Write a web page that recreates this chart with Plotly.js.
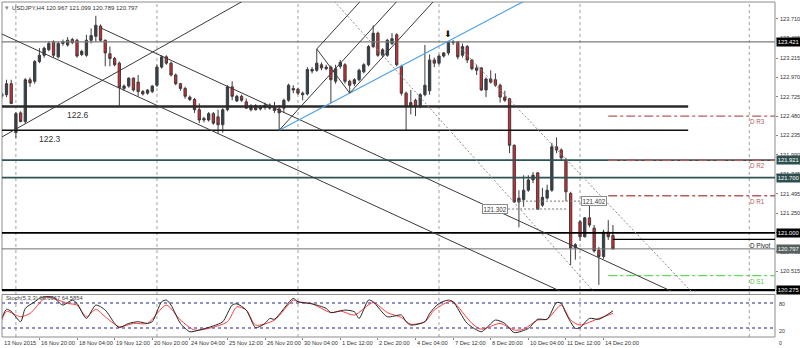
<!DOCTYPE html>
<html><head><meta charset="utf-8">
<script src="https://cdn.plot.ly/plotly-3.0.1.min.js"></script>
<style>html,body{margin:0;padding:0;background:#fff;}#chart{width:800px;height:348px;}</style>
</head><body><div id="chart"></div>
<script>
// ---------- data ----------
const symbolTitle = 'USDJPY,H4 120.967 121.099 120.789 120.797';
const stochTitle = 'Stoch(5,3,3) 66.6667 64.5854';

const openP = [122.73,122.75,122.89,122.27,122.52,122.41,122.94,122.92,123.17,123.25,
123.32,123.42,123.23,123.40,123.38,123.45,123.44,123.26,123.25,123.44,
123.49,123.62,123.44,123.27,123.21,123.15,122.83,122.86,122.96,122.91,
122.79,122.77,122.79,122.87,123.10,123.23,123.15,123.00,122.89,122.83,
122.72,122.69,122.56,122.45,122.43,122.51,122.47,122.37,122.56,122.85,
122.67,122.73,122.66,122.56,122.61,122.57,122.59,122.62,122.60,122.57,
122.58,122.68,122.83,122.82,122.77,122.76,123.07,123.06,123.13,123.08,
123.10,122.92,123.11,123.13,122.92,122.89,122.94,123.04,123.13,123.36,
123.53,123.25,123.25,123.40,123.51,123.11,122.77,122.60,122.68,122.61,
122.75,122.80,123.19,123.15,123.24,123.28,123.41,123.42,123.25,123.36,
123.19,123.09,123.09,122.81,122.95,122.94,122.87,122.72,122.70,122.11,
121.39,121.42,121.54,121.67,121.76,121.35,121.44,121.54,122.09,122.05,
121.92,121.50,120.81,121.14,120.95,121.19,121.06,120.78,120.70,121.01,
120.967];
const highP = [122.78,122.94,122.94,122.53,122.54,122.96,122.97,123.19,123.34,123.36,
123.43,123.44,123.42,123.45,123.48,123.47,123.46,123.32,123.51,123.59,
123.75,123.64,123.45,123.36,123.23,123.17,122.88,122.97,122.97,123.00,
122.81,122.82,122.87,123.13,123.25,123.25,123.17,123.02,122.90,122.85,
122.74,122.71,122.64,122.47,122.53,122.53,122.56,122.58,122.87,122.92,
122.75,122.75,122.70,122.63,122.63,122.62,122.65,122.64,122.66,122.62,
122.70,122.89,122.87,122.84,122.79,123.10,123.10,123.33,123.16,123.13,
123.12,123.13,123.19,123.15,122.94,122.96,123.08,123.15,123.38,123.63,
123.55,123.34,123.46,123.53,123.53,123.13,122.79,122.81,122.70,122.77,
123.38,123.26,123.22,123.26,123.29,123.43,123.44,123.43,123.40,123.38,
123.20,123.13,123.10,122.97,123.06,123.02,122.89,122.80,122.71,122.12,
121.54,121.73,121.73,121.77,121.77,121.57,121.61,122.14,122.21,122.07,
121.95,121.52,120.87,121.16,121.20,121.35,121.10,120.82,121.04,121.16,
121.099];
const lowP = [122.70,122.72,122.63,122.20,122.40,122.38,122.85,122.89,123.15,123.22,
123.30,123.22,123.21,123.37,123.36,123.39,123.22,123.24,123.23,123.40,
123.42,123.42,123.11,123.11,123.11,122.61,122.80,122.84,122.79,122.73,
122.74,122.75,122.77,122.85,123.08,123.13,122.98,122.87,122.80,122.70,
122.67,122.52,122.39,122.40,122.41,122.37,122.26,122.27,122.54,122.68,
122.66,122.66,122.57,122.54,122.55,122.55,122.56,122.56,122.52,122.30,
122.52,122.66,122.77,122.75,122.68,122.74,123.02,123.04,123.06,123.06,
122.64,122.89,123.08,122.89,122.77,122.86,122.92,123.02,123.11,123.34,
123.23,123.22,123.23,123.38,123.11,122.74,122.30,122.50,122.48,122.58,
122.73,122.75,123.10,123.13,123.22,123.25,123.38,123.20,123.22,123.15,
123.06,123.00,122.80,122.72,122.89,122.85,122.65,122.66,122.01,121.38,
121.07,121.33,121.52,121.63,121.29,121.33,121.42,121.52,122.01,121.92,
121.40,120.59,120.66,120.90,120.94,121.07,120.75,120.34,120.67,120.91,
120.789];
const closeP = [122.76,122.89,122.64,122.51,122.41,122.94,122.90,123.17,123.25,123.34,
123.40,123.25,123.40,123.42,123.44,123.41,123.24,123.30,123.44,123.50,
123.63,123.44,123.28,123.21,123.13,122.84,122.86,122.96,122.81,122.79,
122.76,122.81,122.86,123.10,123.23,123.15,123.00,122.89,122.83,122.73,
122.69,122.56,122.43,122.43,122.51,122.39,122.37,122.56,122.85,122.73,
122.73,122.68,122.58,122.61,122.56,122.59,122.62,122.58,122.55,122.52,
122.68,122.87,122.81,122.77,122.75,123.07,123.05,123.15,123.09,123.10,
122.94,123.08,123.16,122.92,122.87,122.94,123.06,123.13,123.36,123.53,
123.25,123.32,123.44,123.46,123.13,122.77,122.60,122.65,122.60,122.75,
122.87,123.19,123.15,123.24,123.28,123.42,123.42,123.23,123.36,123.19,
123.08,123.06,122.81,122.95,122.91,122.87,122.72,122.68,122.11,121.39,
121.44,121.54,121.67,121.73,121.30,121.45,121.54,122.09,122.05,121.95,
121.52,120.81,120.85,120.95,121.19,121.10,120.77,120.70,121.01,120.95,
120.797];

// stochastic (bar index, value) read at turning points
const stochMainBars = [0,1,2,4,5,7,8,9,11,12,13,15,16,18,20,22,24,25,27,29,31,32,34,35,36,38,40,42,45,47,49,50,52,54,56,57,58,62,63,66,69,70,73,75,76,78,79,82,85,86,87,90,91,93,95,96,99,102,103,105,107,109,112,114,116,118,119,120,122,123,125,127,130];
const stochMain = [43,65,60,35,67,83,91,95,94,83,75,87,79,43,75,63,31,21,31,35,31,35,83,87,75,31,11,15,25,35,75,78,63,21,31,43,41,91,83,78,67,57,63,59,43,87,83,47,51,35,27,35,55,79,87,83,31,11,19,39,31,9,19,41,41,81,79,55,19,21,43,41,61];
const stochSignalBars = [0,1,4,6,9,10,12,14,16,18,20,22,25,28,31,35,38,41,44,48,50,52,54,58,62,63,66,70,72,75,79,82,85,87,90,92,95,96,100,102,106,109,111,114,116,119,121,123,127,130];
const stochSignal = [39,60,47,55,91,94,87,79,75,47,65,47,23,31,31,75,39,15,19,35,71,63,27,39,87,83,78,57,61,51,81,57,45,29,35,63,83,83,31,17,31,15,17,39,41,75,39,27,43,55];
const stochLevels = [80, 20];
const stochAxisLabels = ['100','80','20','0'];
const stochAxisValues = [100,80,20,0];

// time axis
const timeLabels = ['13 Nov 2015','16 Nov 20:00','18 Nov 04:00','19 Nov 12:00','20 Nov 20:00','24 Nov 04:00','25 Nov 12:00','26 Nov 20:00','30 Nov 04:00','1 Dec 12:00','2 Dec 20:00','4 Dec 04:00','7 Dec 12:00','8 Dec 20:00','10 Dec 04:00','11 Dec 12:00','14 Dec 20:00'];
const timeLabelBars = [0,8,16,24,32,40,48,56,64,72,80,88,96,104,112,120,128];
const weekGridBars = [3,33,63,93,123,159];

// price axis: tick marks, and the labels that stay readable beside the boxes
const priceTicks = [123.710,123.465,123.215,122.970,122.725,122.480,122.235,121.990,121.745,121.495,121.250,121.005,120.760,120.515,120.270];
const priceTickLabels = [123.710,123.465,123.215,122.970,122.725,122.480,122.235,121.990,121.745,121.495,121.250,120.760,120.515];

// horizontal level lines with price boxes
const levelPrices = [123.421,121.921,121.700,121.000,120.797,120.275];
// support / resistance with text
const srPrices = [122.6, 122.3];
const srLabels = ['122.6','122.3'];
// daily pivots
const pivotNames = ['D R3','D R2','D R1','D Pivot','D S1'];
const pivotValues = [122.48,121.92,121.47,120.918,120.457];
// price label objects
const priceLabelValues = [121.402, 121.302];
const priceLabelTexts = ['121.402','121.302'];

// trend lines (bar index, price)
const lineA_bars = [0,119.2],   lineA_prices = [123.52,120.25];
const lineB_bars = [21.1,142.8], lineB_prices = [123.595,120.25];
const lineC_bars = [0,51.7],    lineC_prices = [122.214,123.95];
const lineE_bars = [70.5,126],  lineE_prices = [123.95,120.25];
const lineF_end = [146.8,120.25];
const pitchforkBars = [59,67,74];

// ---------- build ----------
const bars = openP.map((_, i) => i);
const FONT = 'Liberation Sans, Arial, sans-serif';
const shapes = [], ann = [];

function seg(b, p, e0, e1) {
  const s = (p[1]-p[0])/(b[1]-b[0]);
  return {x0:b[0]-e0, y0:p[0]-s*e0, x1:b[1]+e1, y1:p[1]+s*e1};
}
function addLine(geom, color, width, dash) {
  shapes.push(Object.assign({type:'line', xref:'x', yref:'y', line:{color:color, width:width, dash:dash||'solid'}, layer:'above'}, geom));
}

// frames
shapes.push({type:'rect', xref:'x domain', yref:'y domain', x0:0, x1:1, y0:0, y1:1, line:{color:'#8c8c8c', width:1}, layer:'above'});
shapes.push({type:'rect', xref:'x domain', yref:'y2 domain', x0:0, x1:1, y0:0, y1:1, line:{color:'#8c8c8c', width:1}, layer:'above'});

// weekly vertical grid
weekGridBars.forEach(b => shapes.push({type:'line', xref:'x', yref:'paper', x0:b, x1:b, y0:0, y1:1, line:{color:'#a0a0a0', width:1, dash:'dot'}, layer:'below'}));

// stochastic levels
stochLevels.forEach(v => shapes.push({type:'line', xref:'x domain', yref:'y2', x0:0, x1:1, y0:v, y1:v, line:{color:'#6c6cb8', width:1.5, dash:'dot'}, layer:'below'}));

// full-width levels
const levelStyle = [
  {c:'#7c7c7c', w:1.2, bg:'#000000'},
  {c:'#2f5252', w:1.6, bg:'#2f4f4f'},
  {c:'#2f5252', w:1.6, bg:'#2f4f4f'},
  {c:'#000000', w:1.6, bg:'#000000'},
  {c:'#707070', w:1.0, bg:'#56605f'},
  {c:'#000000', w:2.0, bg:'#000000'}
];
levelPrices.forEach((p, i) => {
  shapes.push({type:'line', xref:'x domain', yref:'y', x0:0, x1:1, y0:p, y1:p, line:{color:levelStyle[i].c, width:levelStyle[i].w}, layer:'above'});
});

// support/resistance segments
const srStyle = [{w:2.4, c:'#2a2a2a', lx:16.2}, {w:1.6, c:'#111111', lx:10.3}];
srPrices.forEach((p, i) => {
  shapes.push({type:'line', xref:'x', yref:'y', x0:-2, x1:146, y0:p, y1:p, line:{color:srStyle[i].c, width:srStyle[i].w}, layer:'above'});
  ann.push({x:srStyle[i].lx, y:p, xref:'x', yref:'y', text:srLabels[i], showarrow:false, xanchor:'center', yanchor:'top', yshift:-1.5,
    font:{family:FONT, size:8.5, color:'#333'}});
});

// pivots
const pivotStyle = [
  {c:'#b45c5c', d:'dashdot', from:129, tc:'#b45c5c'},
  {c:'#b45c5c', d:'dashdot', from:129, tc:'#b45c5c'},
  {c:'#b45c5c', d:'dashdot', from:129, tc:'#b45c5c'},
  {c:'#000000', d:'solid', from:130, tc:'#222'},
  {c:'#5fdc5f', d:'dashdot', from:129, tc:'#4ccf4c'}
];
pivotValues.forEach((p, i) => {
  const st = pivotStyle[i];
  shapes.push({type:'line', xref:'x', yref:'y', x0:st.from, x1:170, y0:p, y1:p, line:{color:st.c, width:1.3, dash:st.d}, layer:'above'});
  ann.push({x:158.7, y:p, xref:'x', yref:'y', text:pivotNames[i], showarrow:false, xanchor:'left', yanchor:'top', yshift:(i===3?-1:0),
    font:{family:FONT, size:6.3, color:st.tc}});
});

// price label objects
const plStyle = [{from:109.8, to:123.4, bx:126.0}, {from:107.7, to:120.3, bx:105.0}];
priceLabelValues.forEach((p, i) => {
  shapes.push({type:'line', xref:'x', yref:'y', x0:plStyle[i].from, x1:plStyle[i].to, y0:p, y1:p, line:{color:'#777', width:1, dash:'2px,2px'}, layer:'above'});
  ann.push({x:plStyle[i].bx, y:p, xref:'x', yref:'y', text:priceLabelTexts[i], showarrow:false, xanchor:'center', yanchor:'middle',
    bgcolor:'#ffffff', bordercolor:'#8a8a8a', borderwidth:1, borderpad:0.5, font:{family:FONT, size:6.3, color:'#333'}});
});

// trend lines
addLine(seg(lineA_bars, lineA_prices, 3, 25), '#3a3a3a', 1);
addLine(seg(lineB_bars, lineB_prices, 0, 12), '#3a3a3a', 1);
addLine(seg(lineC_bars, lineC_prices, 3, 6), '#3a3a3a', 1);
addLine(seg(lineE_bars, lineE_prices, 6, 6), '#8a8a8a', 1, '2px,2px');
addLine(seg([96, lineF_end[0]], [highP[96], lineF_end[1]], 0, 6), '#8a8a8a', 1, '2px,2px');
// blue line from pitchfork handle through the top
addLine(seg([pitchforkBars[0], 95], [lowP[pitchforkBars[0]], highP[95]], 0, 45), '#4d9fea', 1.2);

// Andrews pitchfork
(function(){
  const b1 = pitchforkBars[0], p1 = lowP[b1];
  const b2 = pitchforkBars[1], p2 = highP[b2];
  const b3 = pitchforkBars[2], p3 = lowP[b3];
  const mb = (b2+b3)/2, mp = (p2+p3)/2;
  const s = (mp-p1)/(mb-b1);
  const ext = 45;
  addLine({x0:b1, y0:p1, x1:b1+ext, y1:p1+s*ext}, '#3a3a3a', 1);
  addLine({x0:b2, y0:p2, x1:b2+ext, y1:p2+s*ext}, '#3a3a3a', 1);
  addLine({x0:b3, y0:p3, x1:b3+ext, y1:p3+s*ext}, '#3a3a3a', 1);
  addLine({x0:b2, y0:p2, x1:b3, y1:p3}, '#3a3a3a', 1);
})();

// arrow above the top candle
ann.push({x:95, y:highP[95], xref:'x', yref:'y', text:'\u2B07', showarrow:false, yanchor:'bottom', yshift:0,
  font:{family:'DejaVu Sans', size:9, color:'#111'}});

// price axis tick labels (drawn as text next to the axis ticks)
priceTickLabels.forEach(v => {
  ann.push({x:1, y:v, xref:'paper', yref:'y', text:v.toFixed(3), showarrow:false, xanchor:'left', yanchor:'middle', xshift:2.5,
    font:{family:FONT, size:5.6, color:'#333'}});
});

// price boxes on the axis
levelPrices.forEach((p, i) => {
  ann.push({x:1, y:p, xref:'paper', yref:'y', text:p.toFixed(3), showarrow:false, xanchor:'left', yanchor:'middle', xshift:0.5,
    bgcolor:levelStyle[i].bg, borderpad:0.8, font:{family:FONT, size:5.8, color:'#ffffff'}});
});

// time labels
timeLabels.forEach((t, i) => {
  ann.push({x:Math.max(timeLabelBars[i], 0.06), y:0, xref:'x', yref:'paper', text:t, showarrow:false, xanchor:'left', yanchor:'top', yshift:-0.5, xshift:-0.5,
    font:{family:FONT, size:5.7, color:'#333'}});
});

// stoch axis labels
const stochShift = [-3, 1, 3, 7];
stochAxisValues.forEach((v, i) => {
  ann.push({x:1, y:v, xref:'paper', yref:'y2', text:stochAxisLabels[i], showarrow:false, xanchor:'left', yanchor:'middle', xshift:2, yshift:-stochShift[i],
    font:{family:FONT, size:5.3, color:'#333'}});
});

// titles
ann.push({x:0, y:1, xref:'paper', yref:'paper', text:'\u25BE', showarrow:false, xanchor:'left', yanchor:'top', xshift:1, yshift:0,
  font:{family:'DejaVu Sans', size:7, color:'#888'}});
ann.push({x:0, y:1, xref:'paper', yref:'paper', text:symbolTitle, showarrow:false, xanchor:'left', yanchor:'top', xshift:8, yshift:-1,
  font:{family:FONT, size:6, color:'#333'}});
ann.push({x:0, y:0.1164, xref:'paper', yref:'paper', text:stochTitle, showarrow:false, xanchor:'left', yanchor:'middle', xshift:2,
  font:{family:FONT, size:5.8, color:'#444'}});

const traces = [
  {type:'candlestick', x:bars, open:openP, high:highP, low:lowP, close:closeP, xaxis:'x', yaxis:'y',
   increasing:{line:{color:'#3c3c3c', width:1}, fillcolor:'#33414e'},
   decreasing:{line:{color:'#3c3c3c', width:1}, fillcolor:'#e4262b'},
   whiskerwidth:0, hoverinfo:'skip', showlegend:false},
  {type:'scatter', mode:'lines', x:stochSignalBars, y:stochSignal, xaxis:'x', yaxis:'y2',
   line:{color:'#ff3b3b', width:1, shape:'spline', smoothing:0.7}, hoverinfo:'skip', showlegend:false},
  {type:'scatter', mode:'lines', x:stochMainBars, y:stochMain, xaxis:'x', yaxis:'y2',
   line:{color:'#262626', width:1, shape:'spline', smoothing:0.7}, hoverinfo:'skip', showlegend:false}
];

const layout = {
  width:800, height:348,
  margin:{l:2, r:25, t:2, b:11, pad:0},
  paper_bgcolor:'#ffffff', plot_bgcolor:'#ffffff',
  showlegend:false, hovermode:false,
  xaxis:{range:[0.043,164.47], domain:[0,1], anchor:'y2', showgrid:false, zeroline:false, showticklabels:false,
    ticks:'outside', tickvals:timeLabelBars, ticklen:2, tickcolor:'#888', showline:false,
    rangeslider:{visible:false}, fixedrange:true},
  yaxis:{domain:[0.1373,1], range:[120.263,123.925], side:'right', anchor:'x',
    tickvals:priceTicks, showticklabels:false, ticks:'outside', ticklen:2, tickcolor:'#888',
    showgrid:false, zeroline:false, showline:false, fixedrange:true},
  yaxis2:{domain:[0,0.1269], range:[-1.7,100.5], anchor:'x', showticklabels:false, showgrid:false, zeroline:false, showline:false, fixedrange:true},
  shapes:shapes,
  annotations:ann
};

Plotly.newPlot('chart', traces, layout, {staticPlot:true, displayModeBar:false});
</script>
</body></html>
